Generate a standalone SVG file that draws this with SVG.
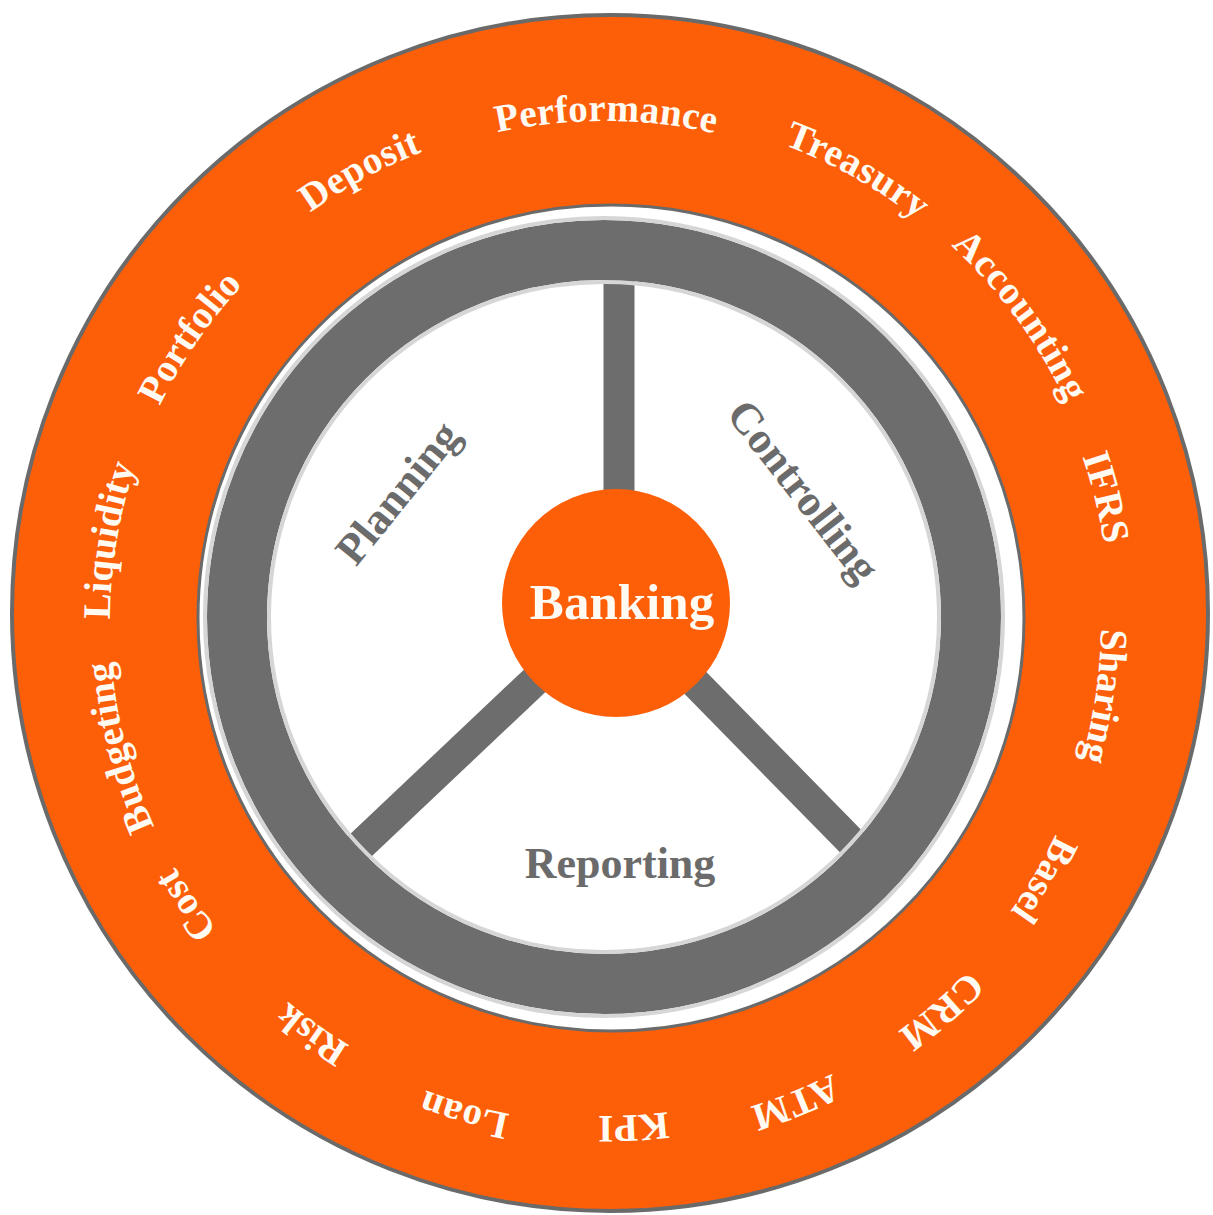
<svg xmlns="http://www.w3.org/2000/svg" width="1213" height="1215" viewBox="0 0 1213 1215">
  <defs>
    <path id="ringPath" d="M 604,128 A 494 494 0 0 1 604,1116 A 494 494 0 0 1 604,128 A 494 494 0 0 1 604,1116 A 494 494 0 0 1 604,128"/>
    <style>
      .outer-label { font-family: "Liberation Serif", "Times New Roman", serif; font-weight: bold; font-size: 39px; fill: #fffaf2; }
      .inner-label { font-family: "Liberation Serif", "Times New Roman", serif; font-weight: bold; font-size: 44px; fill: #6b6b6b; }
      .spoke { stroke: #6d6d6d; stroke-width: 31; fill: none; }
    </style>
  </defs>
  <rect x="0" y="0" width="1213" height="1215" fill="#ffffff"/>

  <g id="outer-ring">
    <circle cx="610" cy="613" r="598" fill="#fd5f09" stroke="#6a6a6a" stroke-width="4"/>
    <circle cx="611" cy="618" r="413" fill="#ffffff" stroke="#6a6a6a" stroke-width="3"/>
  </g>

  <g id="connectors">
    <line class="spoke" x1="619" y1="270" x2="619" y2="600"/>
    <line class="spoke" x1="617" y1="603" x2="341" y2="864"/>
    <line class="spoke" x1="617" y1="603" x2="876" y2="867"/>
  </g>

  <g id="wheel">
    <circle cx="604" cy="617" r="367" fill="none" stroke="#6d6d6d" stroke-width="60"/>
    <circle cx="604" cy="617" r="399" fill="none" stroke="#d6d6d6" stroke-width="4"/>
    <circle cx="604" cy="617" r="335" fill="none" stroke="#d6d6d6" stroke-width="4"/>
  </g>

  <g id="hub">
    <circle cx="616" cy="603" r="114" fill="#fd5f09"/>
    <text x="622" y="619" text-anchor="middle" font-family="Liberation Serif, Times New Roman, serif" font-weight="bold" font-size="51" fill="#fffaf2">Banking</text>
  </g>

  <g id="segment-planning">
    <text class="inner-label" text-anchor="middle" transform="translate(409,502) rotate(-51)">Planning</text>
  </g>
  <g id="segment-controlling">
    <text class="inner-label" text-anchor="middle" transform="translate(792,500) rotate(52)">Controlling</text>
  </g>
  <g id="segment-reporting">
    <text class="inner-label" x="620" y="878" text-anchor="middle">Reporting</text>
  </g>

  <g id="outer-labels">
    <g id="label-performance"><text class="outer-label" text-anchor="middle" dy="-7"><textPath href="#ringPath" startOffset="3105.6">Performance</textPath></text></g>
    <g id="label-treasury"><text class="outer-label" text-anchor="middle" dy="-16"><textPath href="#ringPath" startOffset="3356">Treasury</textPath></text></g>
    <g id="label-accounting"><text class="outer-label" text-anchor="middle" dy="-18"><textPath href="#ringPath" startOffset="3566">Accounting</textPath></text></g>
    <g id="label-ifrs"><text class="outer-label" text-anchor="middle" dy="-12"><textPath href="#ringPath" startOffset="3759.2">IFRS</textPath></text></g>
    <g id="label-sharing"><text class="outer-label" text-anchor="middle" dy="-3"><textPath href="#ringPath" startOffset="3952.3">Sharing</textPath></text></g>
    <g id="label-basel"><text class="outer-label" text-anchor="middle" dy="-5"><textPath href="#ringPath" startOffset="4141.1">Basel</textPath></text></g>
    <g id="label-crm"><text class="outer-label" text-anchor="middle" dy="-10"><textPath href="#ringPath" startOffset="4302.4">CRM</textPath></text></g>
    <g id="label-atm"><text class="outer-label" text-anchor="middle" dy="-12"><textPath href="#ringPath" startOffset="4467.9">ATM</textPath></text></g>
    <g id="label-kpi"><text class="outer-label" text-anchor="middle"><textPath href="#ringPath" startOffset="4626.5">KPI</textPath></text></g>
    <g id="label-loan"><text class="outer-label" text-anchor="middle" dy="-7"><textPath href="#ringPath" startOffset="4792.1">Loan</textPath></text></g>
    <g id="label-risk"><text class="outer-label" text-anchor="middle"><textPath href="#ringPath" startOffset="4960.2">Risk</textPath></text></g>
    <g id="label-cost"><text class="outer-label" text-anchor="middle"><textPath href="#ringPath" startOffset="5137.0">Cost</textPath></text></g>
    <g id="label-budgeting"><text class="outer-label" text-anchor="middle"><textPath href="#ringPath" startOffset="5305.9">Budgeting</textPath></text></g>
    <g id="label-liquidity"><text class="outer-label" text-anchor="middle"><textPath href="#ringPath" startOffset="5512.0">Liquidity</textPath></text></g>
    <g id="label-portfolio"><text class="outer-label" text-anchor="middle"><textPath href="#ringPath" startOffset="5728.4">Portfolio</textPath></text></g>
    <g id="label-deposit"><text class="outer-label" text-anchor="middle" dy="-10"><textPath href="#ringPath" startOffset="5962.1">Deposit</textPath></text></g>
  </g>
</svg>
